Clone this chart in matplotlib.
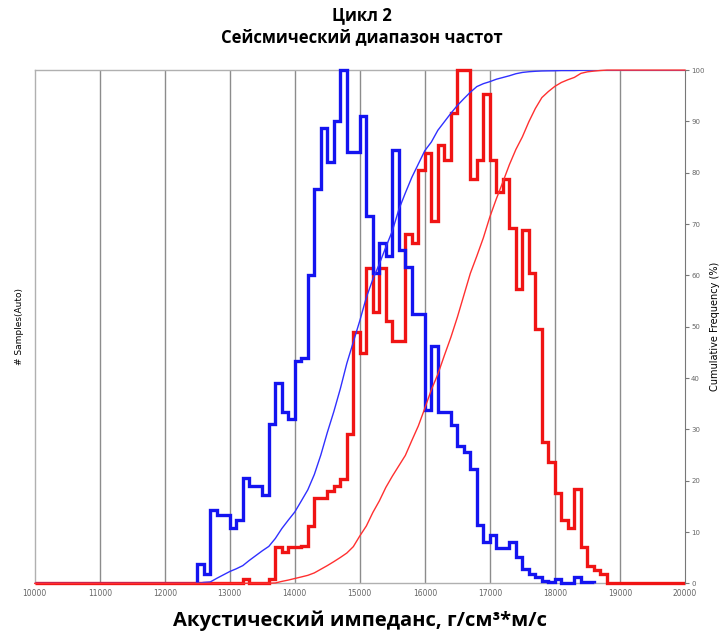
import numpy as np
import matplotlib.pyplot as plt

# ---- data (bin width 100) ----
bin_width = 100

blue_start = 12500
blue_counts = [3.8, 1.8, 14.3, 13.4, 13.4, 10.7, 12.4, 20.6, 18.9, 18.9,
               17.3, 31.1, 39.0, 33.4, 32.1, 43.3, 43.9, 60.1, 76.8, 88.7,
               82.1, 90.0, 100.0, 84.1, 84.1, 91.0, 71.6, 60.4, 66.3, 63.7,
               84.4, 65.0, 61.7, 52.5, 52.5, 33.8, 46.3, 33.4, 33.4, 30.8,
               26.8, 25.5, 22.2, 11.4, 8.0, 9.5, 6.8, 6.8, 8.0, 5.1,
               2.8, 1.8, 1.2, 0.5, 0.3, 0.9, 0.0, 0.0, 1.2, 0.3, 0.3]

red_start = 13200
red_counts = [0.9, 0.0, 0.0, 0.0, 0.9, 7.1, 6.1, 7.1, 7.1, 7.3,
              11.1, 16.6, 16.6, 18.0, 18.9, 20.3, 29.1, 48.9, 44.9, 61.4,
              52.8, 61.4, 51.2, 47.2, 47.2, 68.0, 66.3, 80.5, 83.9, 70.6,
              85.4, 82.4, 91.6, 100.0, 100.0, 78.8, 82.4, 95.3, 82.4, 76.2,
              78.8, 69.3, 57.4, 68.9, 60.4, 49.5, 27.5, 23.6, 17.6, 12.4,
              10.7, 18.3, 7.0, 3.4, 2.7, 1.9]

x_min, x_max = 10000, 20000
x_ticks = list(range(10000, 20001, 1000))
cum_ticks = list(range(0, 101, 10))

title = "Цикл 2\nСейсмический диапазон частот"
x_label = "Акустический импеданс, г/см³*м/с"
left_label = "# Samples(Auto)"
right_label = "Cumulative Frequency (%)"

colors = {'blue': '#1414f0', 'red': '#f01414', 'grid': '#8c8c8c', 'tick': '#666666'}

# ---- derived arrays ----
blue_counts = np.array(blue_counts)
red_counts = np.array(red_counts)
blue_edges = blue_start + bin_width * np.arange(len(blue_counts) + 1)
red_edges = red_start + bin_width * np.arange(len(red_counts) + 1)

# red padded across whole range so its baseline runs along the bottom
red_full_edges = np.concatenate([[x_min], red_edges, [x_max]])
red_full_counts = np.concatenate([[0.0], red_counts, [0.0]])


def cumulative(edges, counts):
    cum = np.concatenate([[0.0], np.cumsum(counts) / counts.sum() * 100])
    xs = np.concatenate([[x_min], edges, [x_max]])
    ys = np.concatenate([[0.0], cum, [100.0]])
    return xs, ys


# ---- figure ----
fig = plt.figure(figsize=(7.24, 6.4), dpi=100)
ax = fig.add_axes([0.048, 0.0885, 0.898, 0.802])

for xv in x_ticks[1:-1]:
    ax.axvline(xv, color=colors['grid'], lw=1.0, zorder=1)

ax.stairs(red_full_counts, red_full_edges, baseline=0, color=colors['red'],
          lw=2.4, zorder=3, clip_on=False)
ax.stairs(blue_counts, blue_edges, baseline=0, color=colors['blue'],
          lw=2.4, zorder=4, clip_on=False)

ax.set_xlim(x_min, x_max)
ax.set_ylim(0, 100)
ax.set_yticks([])
ax.set_xticks(x_ticks)
ax.set_xticklabels([str(t) for t in x_ticks], fontsize=5.5, color=colors['tick'])
ax.tick_params(axis='x', length=0, pad=4)
for s in ['top', 'left', 'bottom']:
    ax.spines[s].set_color('#b0b0b0')
    ax.spines[s].set_linewidth(1.0)
ax.spines['right'].set_visible(False)
ax.set_ylabel(left_label, fontsize=6.5, labelpad=8)

# cumulative curves on the right axis
ax2 = ax.twinx()
bx, by = cumulative(blue_edges, blue_counts)
rx, ry = cumulative(red_edges, red_counts)
ax2.plot(bx, by, color='#3030ff', lw=1.0, zorder=5)
ax2.plot(rx, ry, color='#ff3030', lw=1.0, zorder=5, clip_on=False)
ax2.set_ylim(0, 100)
ax2.set_yticks(cum_ticks)
ax2.set_yticklabels([str(t) for t in cum_ticks], fontsize=5, color=colors['tick'])
ax2.tick_params(axis='y', length=3, width=0.8, color='#777777', pad=1.5)
ax2.spines['right'].set_color('#777777')
for s in ['top', 'left', 'bottom']:
    ax2.spines[s].set_visible(False)
ax2.set_ylabel(right_label, fontsize=7, labelpad=4)

fig.suptitle(title, fontsize=12, fontweight='bold', family='Open Sans',
             x=0.5, y=0.99, linespacing=1.25)
ax.set_xlabel(x_label, fontsize=14.5, fontweight='bold', family='Open Sans',
              labelpad=9)

fig.savefig('out.png', dpi=100)
